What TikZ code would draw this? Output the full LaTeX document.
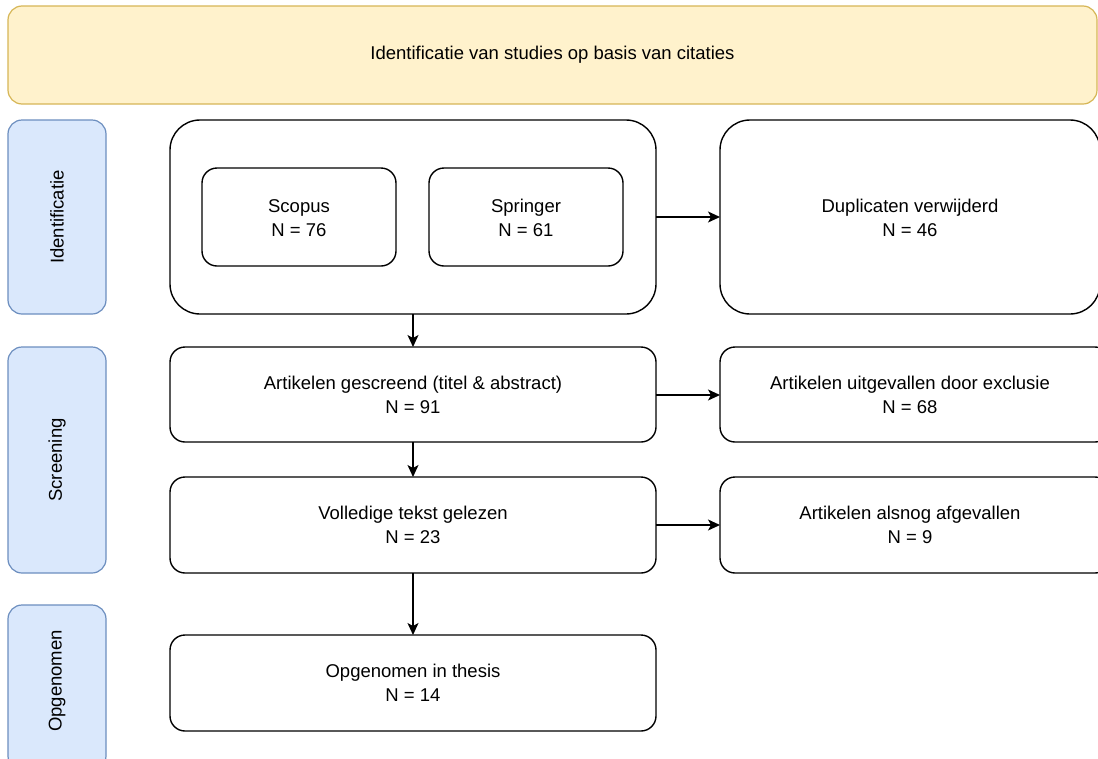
\documentclass[tikz,border=0pt]{standalone}
\usepackage{fontspec}
\setmainfont{Liberation Sans}
\usetikzlibrary{arrows.meta}
\definecolor{bannerfill}{HTML}{FFF2CC}
\definecolor{bannerdraw}{HTML}{D6B656}
\definecolor{phasefill}{HTML}{DAE8FC}
\definecolor{phasedraw}{HTML}{6C8EBF}
\tikzset{
  banner/.style={draw=bannerdraw, fill=bannerfill, line width=1.2pt, rounded corners=14pt},
  phase/.style={draw=phasedraw, fill=phasefill, line width=1.2pt, rounded corners=14pt},
  box/.style={draw=black, line width=1.4pt, rounded corners=15pt, fill=white},
  bigbox/.style={draw=black, line width=1.4pt, rounded corners=30pt, fill=white},
  lbl/.style={font=\fontsize{18.5}{24}\selectfont, align=center, inner sep=0pt},
  arr/.style={draw=black, line width=1.4pt, -{Stealth[length=12pt,width=11pt,inset=3pt]}}
}
\begin{document}
\begin{tikzpicture}[x=1pt,y=-1pt]
\useasboundingbox (0,0) rectangle (1098,758);
\clip (0,0) rectangle (1098,758);
% banner
\draw[banner] (8,6) rectangle (1097,104);
\node[lbl] (bannertext) at (552.5,55) {Identificatie van studies op basis van citaties};
% phases
\draw[phase] (8,120) rectangle (106,314);
\node[lbl, rotate=90] (ph1) at (57,217) {Identificatie};
\draw[phase] (8,347) rectangle (106,573);
\node[lbl, rotate=90] (ph2) at (57,460) {Screening};
\draw[phase] (8,605) rectangle (106,770);
\node[lbl, rotate=90] (ph3) at (57,681) {Opgenomen};
% identification
\draw[bigbox] (170,120) rectangle (656,314);
\coordinate (bigR) at (656,217);
\coordinate (bigB) at (413,314);
\draw[box] (202,168) rectangle (396,266);
\node[lbl] (scopus) at (299,218) {Scopus\\N = 76};
\draw[box] (429,168) rectangle (623,266);
\node[lbl] (springer) at (526,218) {Springer\\N = 61};
\draw[bigbox] (720,120) rectangle (1100,314);
\coordinate (dupL) at (720,217);
\node[lbl] (dup) at (910,218) {Duplicaten verwijderd\\N = 46};
% screening
\draw[box] (170,347) rectangle (656,442);
\coordinate (scrT) at (413,347);
\coordinate (scrB) at (413,442);
\coordinate (scrR) at (656,395);
\node[lbl] (scr) at (413,395) {Artikelen gescreend (titel \& abstract)\\N = 91};
\draw[box] (720,347) rectangle (1110,442);
\coordinate (excL) at (720,395);
\node[lbl] (exc) at (910,395) {Artikelen uitgevallen door exclusie\\N = 68};
\draw[box] (170,477) rectangle (656,573);
\coordinate (fullT) at (413,477);
\coordinate (fullB) at (413,573);
\coordinate (fullR) at (656,525);
\node[lbl] (full) at (413,525) {Volledige tekst gelezen\\N = 23};
\draw[box] (720,477) rectangle (1110,573);
\coordinate (afgL) at (720,525);
\node[lbl] (afg) at (910,525) {Artikelen alsnog afgevallen\\N = 9};
% included
\draw[box] (170,635) rectangle (656,731);
\coordinate (incT) at (413,635);
\node[lbl] (inc) at (413,683) {Opgenomen in thesis\\N = 14};
% arrows
\draw[arr] (bigR) -- (dupL);
\draw[arr] (bigB) -- (scrT);
\draw[arr] (scrR) -- (excL);
\draw[arr] (scrB) -- (fullT);
\draw[arr] (fullR) -- (afgL);
\draw[arr] (fullB) -- (incT);
\end{tikzpicture}
\end{document}
